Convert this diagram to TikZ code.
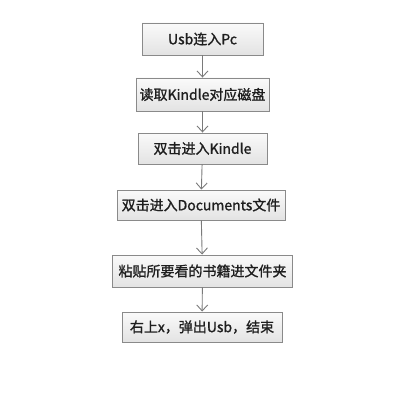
\documentclass[tikz,border=0pt]{standalone}
\usepackage{fontspec}
\setmainfont{Noto Sans CJK SC}[FakeBold=1.2]
\usetikzlibrary{arrows.meta}
\definecolor{boxline}{HTML}{8A8A8A}
\definecolor{arrline}{HTML}{7A7A7A}
\definecolor{txt}{HTML}{1E1E1E}
\tikzset{
  stepbox/.style={draw=boxline, line width=0.9pt, top color=white!60!gray!10, bottom color=gray!22,
    minimum height=32pt, inner sep=0pt, text=txt, font=\fontsize{14}{15}\selectfont},
  flow/.style={draw=arrline, line width=0.9pt, -{Straight Barb[length=6pt,width=11pt,line width=0.9pt]}}
}
\begin{document}
\begin{tikzpicture}[x=1pt,y=-1pt]
\useasboundingbox (0,0) rectangle (400,409);
\node[stepbox, minimum width=121pt] (a) at (202.5,39) {Usb连入Pc};
\node[stepbox, minimum width=133pt, minimum height=33pt] (b) at (202.5,94.5) {读取Kindle对应磁盘};
\node[stepbox, minimum width=129pt, minimum height=31pt] (c) at (202.5,148.5) {双击进入Kindle};
\node[stepbox, minimum width=168pt, minimum height=30pt] (d) at (201,205) {双击进入Documents文件};
\node[stepbox, minimum width=180pt] (e) at (202.5,271) {粘贴所要看的书籍进文件夹};
\node[stepbox, minimum width=160pt, minimum height=30pt] (f) at (202,327) {右上x，弹出Usb，结束};
\draw[flow] (a) -- (b);
\draw[flow] (b) -- (c);
\draw[flow] (c) -- (d);
\draw[flow] (d) -- (e);
\draw[flow] (e) -- (f);
\end{tikzpicture}
\end{document}
